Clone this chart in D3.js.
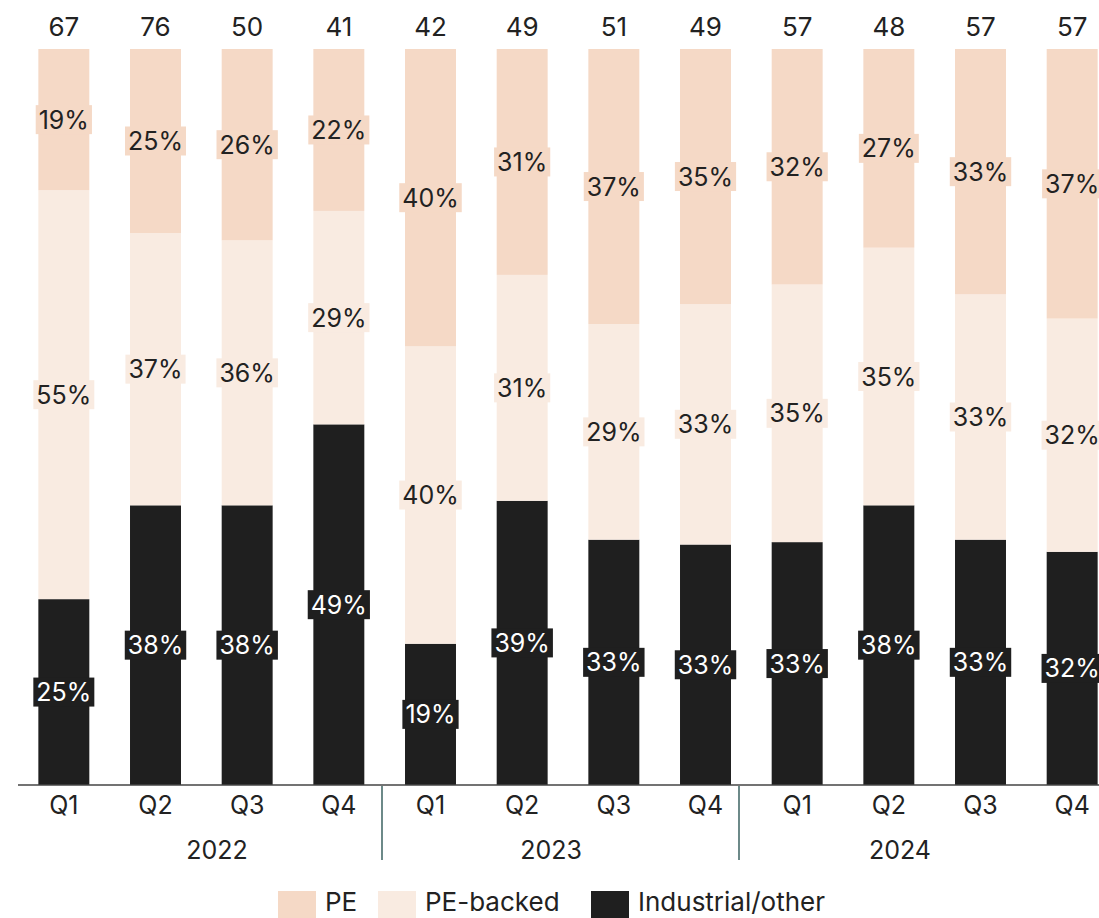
<!DOCTYPE html>
<html><head><meta charset="utf-8">
<script src="https://cdn.jsdelivr.net/npm/d3@7"></script>
<style>
html,body{margin:0;padding:0;background:#fff;}
svg{display:block;font-family:"Inter","Open Sans",sans-serif;}
</style></head>
<body>
<svg id="chart" width="1099" height="918"></svg>
<script>
const quarters = ["Q1","Q2","Q3","Q4","Q1","Q2","Q3","Q4","Q1","Q2","Q3","Q4"];
const years = ["2022","2023","2024"];
const totals = [67,76,50,41,42,49,51,49,57,48,57,57];
const pe = [19,25,26,22,40,31,37,35,32,27,33,37];
const peBacked = [55,37,36,29,40,31,29,33,35,35,33,32];
const industrial = [25,38,38,49,19,39,33,33,33,38,33,32];
const seriesNames = ["Industrial/other","PE-backed","PE"];
const colors = {"PE":"#f5d9c6","PE-backed":"#f9ebe1","Industrial/other":"#1f1f1f"};
const textColors = {"PE":"#222","PE-backed":"#222","Industrial/other":"#fff"};

const rows = quarters.map((q,i)=>({key:i, q, year: years[Math.floor(i/4)],
  "PE":pe[i],"PE-backed":peBacked[i],"Industrial/other":industrial[i], total: totals[i]}));

const svg = d3.select("#chart");
const x = d3.scaleBand().domain(rows.map(d=>d.key)).range([18,1118]).paddingInner(0.444).paddingOuter(0.222);
const y = d3.scaleLinear().domain([0,1]).range([785,49]);

const stack = d3.stack().keys(seriesNames).offset(d3.stackOffsetExpand);
const stacked = stack(rows);

const g = svg.append("g");
stacked.forEach(layer=>{
  g.selectAll(null).data(layer).enter().append("rect")
    .attr("x",d=>x(d.data.key)).attr("width",x.bandwidth())
    .attr("y",d=>y(d[1])).attr("height",d=>y(d[0])-y(d[1]))
    .attr("fill",colors[layer.key]);
});

// segment labels
stacked.forEach(layer=>{
  layer.forEach(d=>{
    const cx = x(d.data.key)+x.bandwidth()/2;
    const cy = (y(d[0])+y(d[1]))/2;
    const lg = g.append("g");
    const t = lg.append("text").attr("x",cx).attr("y",cy).attr("dy","0.36em")
      .attr("text-anchor","middle").attr("font-size",25)
      .attr("fill",textColors[layer.key]).text(d.data[layer.key]+"%");
    const bb = t.node().getBBox();
    lg.insert("rect","text").attr("x",cx-bb.width/2-3).attr("width",bb.width+6)
      .attr("y",cy-14.5).attr("height",29).attr("fill",colors[layer.key]);
  });
});

// totals
g.selectAll(null).data(rows).enter().append("text")
  .attr("x",d=>x(d.key)+x.bandwidth()/2).attr("y",27).attr("dy","0.36em")
  .attr("text-anchor","middle").attr("font-size",26).attr("fill","#222").text(d=>d.total);

// x axis
const axis = d3.axisBottom(x).tickSize(0).tickPadding(11).tickFormat(i=>quarters[i]);
const ax = svg.append("g").attr("transform","translate(0,785)").call(axis);
ax.select(".domain").attr("stroke","#444").attr("stroke-width",1.5).attr("d","M18,0H1099");
ax.selectAll("text").attr("font-size",25).attr("fill","#222").attr("font-family","Inter, Open Sans, sans-serif");

// year groups
const yearLabelX = [217, 551, 900];
const yearSepX = [382, 739];
years.forEach((yr,j)=>{
  svg.append("text").attr("x",yearLabelX[j]).attr("y",850).attr("dy","0.36em")
    .attr("text-anchor","middle").attr("font-size",25).attr("fill","#222").text(yr);
});
yearSepX.forEach(sx=>{
  svg.append("line").attr("x1",sx).attr("x2",sx).attr("y1",786).attr("y2",860)
    .attr("stroke","#0b3b3a").attr("stroke-width",1.2);
});

// legend
const legendItems = [{name:"PE",x:278},{name:"PE-backed",x:378},{name:"Industrial/other",x:591}];
legendItems.forEach(it=>{
  svg.append("rect").attr("x",it.x).attr("y",891).attr("width",38).attr("height",30).attr("fill",colors[it.name]);
  svg.append("text").attr("x",it.x+47).attr("y",911).attr("font-size",26)
    .attr("fill","#222").text(it.name);
});
</script>
</body></html>
